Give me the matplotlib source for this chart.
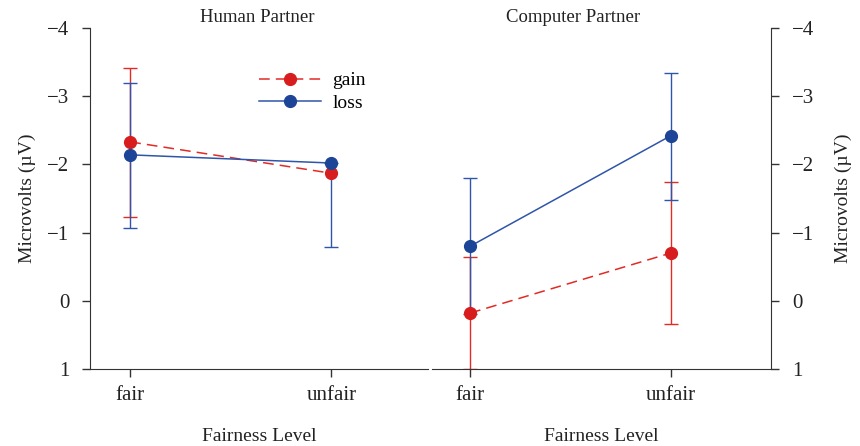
import matplotlib.pyplot as plt
import numpy as np

plt.rcParams['font.family'] = ['Liberation Serif', 'DejaVu Serif']

levels = ['fair', 'unfair']
x = np.arange(len(levels))

# mean amplitudes (µV), negative is up
gain_human = [-2.33, -1.87]
loss_human = [-2.14, -2.02]
gain_comp = [0.18, -0.70]
loss_comp = [-0.80, -2.42]

# error bar extents: [minus side, plus side]; nan = no bar drawn
gain_human_err = [[1.08, np.nan], [1.10, np.nan]]
loss_human_err = [[1.05, 0.0], [1.07, 1.23]]
gain_comp_err = [[0.82, 1.04], [0.82, 1.04]]
loss_comp_err = [[1.00, 0.92], [1.00, 0.94]]

red = '#e22a26'
red_dark = '#d71d1d'
blue = '#2f55aa'
blue_dark = '#1d4597'
ink = '#222222'

fig = plt.figure(figsize=(8.6, 4.46), dpi=100)
ax1 = fig.add_axes([90 / 860, 77 / 446, 338 / 860, 341 / 446])
ax2 = fig.add_axes([432 / 860, 77 / 446, 339 / 860, 341 / 446])


def draw(ax, vals, err, col, mcol, ls, label):
    err = np.array(err, dtype=float)
    ok = ~np.isnan(err[0])
    ax.errorbar(x[ok], np.array(vals)[ok], yerr=err[:, ok], fmt='none',
                ecolor=col, elinewidth=1.0, capsize=5, capthick=1.0, zorder=2)
    ax.plot(x, vals, color=col, ls=ls, lw=1.1, marker='o', ms=8.5,
            mfc=mcol, mec=mcol, label=label, zorder=3,
            dashes=(7, 4) if ls == '--' else (None, None))


for ax, g, ge, l, le in [(ax1, gain_human, gain_human_err, loss_human, loss_human_err),
                         (ax2, gain_comp, gain_comp_err, loss_comp, loss_comp_err)]:
    draw(ax, g, ge, red, red_dark, '--', 'gain')
    draw(ax, l, le, blue, blue_dark, '-', 'loss')
    ax.set_ylim(1, -4)
    ax.set_yticks([1, 0, -1, -2, -3, -4])
    ax.set_xticks(x)
    ax.set_xticklabels(levels)
    ax.spines['top'].set_visible(False)
    ax.tick_params(labelsize=15, length=6, width=1, colors='#333333',
                   labelcolor=ink)
    ax.tick_params(axis='y', pad=9)
    ax.tick_params(axis='x', pad=6)
    ax.set_xlabel('Fairness Level', fontsize=14, labelpad=17, color=ink)
    for s in ax.spines.values():
        s.set_color('#333333')

ax1.set_xlim(-0.2, 1.48)
ax1.spines['right'].set_visible(False)
ax1.set_ylabel('Microvolts (µV)', fontsize=14, labelpad=8, color=ink)

ax2.set_xlim(-0.19, 1.5)
ax2.spines['left'].set_visible(False)
ax2.yaxis.tick_right()
ax2.yaxis.set_label_position('right')
ax2.set_ylabel('Microvolts (µV)', fontsize=14, labelpad=15, color=ink)

ax1.text(0.494, 1.005, 'Human Partner', transform=ax1.transAxes, ha='center',
         va='bottom', fontsize=13.5, color=ink)
ax2.text(0.416, 1.005, 'Computer Partner', transform=ax2.transAxes, ha='center',
         va='bottom', fontsize=13.5, color=ink)

ax1.legend(loc='upper left', bbox_to_anchor=(0.47, 0.90), frameon=False,
           fontsize=14, handlelength=3.2, handletextpad=0.6, labelspacing=0.25,
           borderpad=0)

fig.savefig('out.png', dpi=100)
